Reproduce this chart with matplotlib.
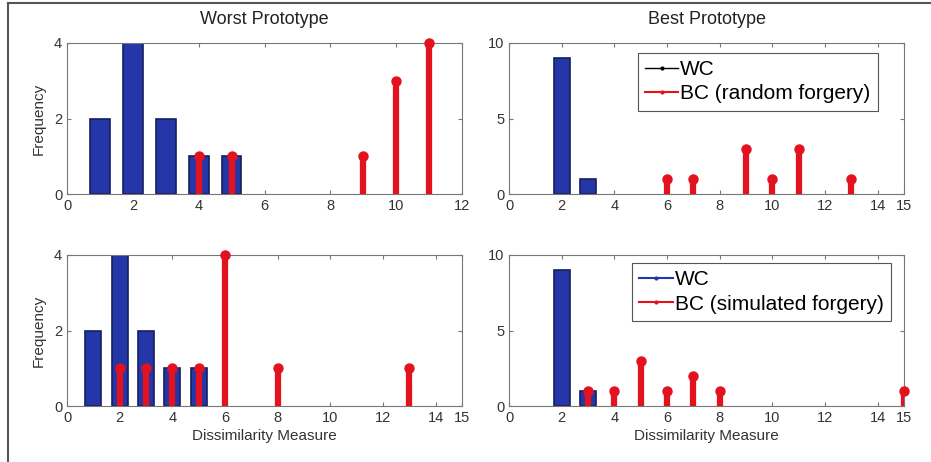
import numpy as np
import matplotlib.pyplot as plt
from matplotlib.lines import Line2D

plt.rcParams['font.family'] = ['Liberation Sans', 'DejaVu Sans']

# within-class (WC) histograms
wc_worst_x = [1, 2, 3, 4, 5]
wc_worst_y = [2, 4, 2, 1, 1]
wc_best_x = [2, 3]
wc_best_y = [9, 1]

# between-class (BC) histograms
bc_rand_worst_x = [4, 5, 9, 10, 11]
bc_rand_worst_y = [1, 1, 1, 3, 4]
bc_rand_best_x = [6, 7, 9, 10, 11, 13]
bc_rand_best_y = [1, 1, 3, 1, 3, 1]
bc_sim_worst_x = [2, 3, 4, 5, 6, 8, 13]
bc_sim_worst_y = [1, 1, 1, 1, 4, 1, 1]
bc_sim_best_x = [3, 4, 5, 6, 7, 8, 15]
bc_sim_best_y = [1, 1, 3, 1, 2, 1, 1]

blue = '#2436a8'
blue_edge = '#15205e'
red = '#e3121f'

fig = plt.figure(figsize=(9.31, 4.62), dpi=100)

# outer frame
fig.add_artist(Line2D([8 / 931, 8 / 931], [0, 1 - 3 / 462], color='#555555', lw=1.5))
fig.add_artist(Line2D([8 / 931, 1], [1 - 3 / 462, 1 - 3 / 462], color='#555555', lw=1.5))

w = 395 / 931
h = 151 / 462
lefts = [67 / 931, 509 / 931]
bottoms = [1 - 194 / 462, 1 - 406 / 462]

panels = [
    (0, 0, wc_worst_x, wc_worst_y, bc_rand_worst_x, bc_rand_worst_y, 12, [0, 2, 4], 4),
    (0, 1, wc_best_x, wc_best_y, bc_rand_best_x, bc_rand_best_y, 15, [0, 5, 10], 10),
    (1, 0, wc_worst_x, wc_worst_y, bc_sim_worst_x, bc_sim_worst_y, 15, [0, 2, 4], 4),
    (1, 1, wc_best_x, wc_best_y, bc_sim_best_x, bc_sim_best_y, 15, [0, 5, 10], 10),
]

axes = {}
for r, c, wx, wy, bx, by, xmax, yt, ymax in panels:
    ax = fig.add_axes([lefts[c], bottoms[r], w, h])
    axes[(r, c)] = ax
    ax.bar(wx, wy, width=0.6, color=blue, edgecolor=blue_edge, linewidth=1.2, zorder=2)
    ax.vlines(bx, 0, by, color=red, linewidth=4.5, zorder=3)
    ax.plot(bx, by, 'o', color=red, markersize=6.5, zorder=4, clip_on=False)
    ax.set_xlim(0, xmax)
    ax.set_ylim(0, ymax)
    ax.set_yticks(yt)
    if xmax == 12:
        ax.set_xticks(range(0, 13, 2))
    else:
        ax.set_xticks(list(range(0, 15, 2)) + [15])
    ax.tick_params(direction='in', top=True, right=True, labelsize=10.5,
                   labelcolor='#333333', color='#777777', length=3)
    for s in ax.spines.values():
        s.set_color('#777777')
    if c == 0:
        ax.set_ylabel('Frequency', fontsize=11, color='#333333', labelpad=6)
    if r == 1:
        ax.set_xlabel('Dissimilarity Measure', fontsize=11, color='#333333', labelpad=3)

axes[(0, 0)].set_title('Worst Prototype', fontsize=13, color='#222222', pad=14)
axes[(0, 1)].set_title('Best Prototype', fontsize=13, color='#222222', pad=14)

h_wc_black = Line2D([], [], color='black', lw=1, marker='.', markersize=4)
h_wc_blue = Line2D([], [], color=blue, lw=1.5, marker='.', markersize=4)
h_bc = Line2D([], [], color=red, lw=1.5, marker='.', markersize=4)

leg_kw = dict(fontsize=15, fancybox=False, edgecolor='#555555', framealpha=1,
              handlelength=1.6, handletextpad=0.1, borderpad=0.35, labelspacing=0.25,
              borderaxespad=0, loc='upper right')
l1 = axes[(0, 1)].legend([h_wc_black, h_bc], ['WC', 'BC (random forgery)'],
                         bbox_to_anchor=(0.934, 0.934), **leg_kw)
l2 = axes[(1, 1)].legend([h_wc_blue, h_bc], ['WC', 'BC (simulated forgery)'],
                         bbox_to_anchor=(0.967, 0.947), **leg_kw)
for l in (l1, l2):
    l.get_frame().set_linewidth(0.8)

fig.savefig('out.png', dpi=100)
